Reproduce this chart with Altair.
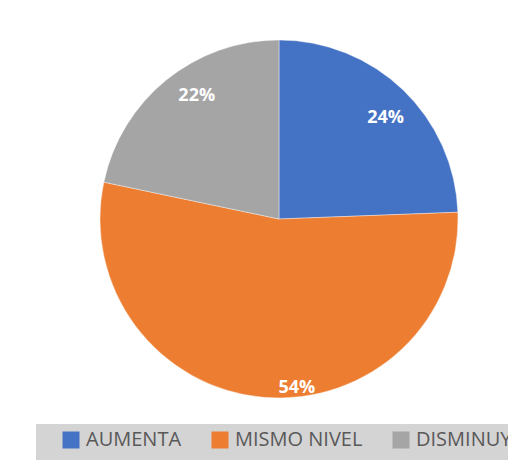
import altair as alt
import pandas as pd

categories = ["AUMENTA", "MISMO NIVEL", "DISMINUYE"]
values = [24.4, 53.9, 21.7]
labels = ["24%", "54%", "22%"]
order_idx = [0, 1, 2]
colors = ["#4472C4", "#ED7D31", "#A5A5A5"]

df = pd.DataFrame({"cat": categories, "val": values, "lab": labels, "ord": order_idx})

CX, CY, R = 271, 211, 179

color = alt.Color(
    "cat:N",
    scale=alt.Scale(domain=categories, range=colors),
    legend=alt.Legend(
        title=None,
        orient="none",
        legendX=53,
        legendY=422,
        direction="horizontal",
        symbolType="square",
        symbolSize=289,
        symbolStrokeWidth=0,
        symbolOpacity=1,
        labelFontSize=20,
        labelFont="Open Sans",
        labelColor="#595959",
        labelOffset=5,
        columnPadding=28,
        labelLimit=300,
        padding=0,
    ),
)

base = alt.Chart(df)

band = base.transform_filter("datum.ord == 0").mark_rect(color="#D4D4D4").encode(
    x=alt.value(28), x2=alt.value(520), y=alt.value(416), y2=alt.value(470)
)

arcs = base.mark_arc(radius=R, stroke="white", strokeWidth=0.4).encode(
    theta=alt.Theta("val:Q", stack=True),
    color=color,
    order=alt.Order("ord:Q"),
    x=alt.value(CX),
    y=alt.value(CY),
)

text_common = dict(font="Open Sans", fontWeight="bold", fontSize=18, color="white")


def label_layer(idx, radius, dx, dy):
    return base.mark_text(radius=radius, dx=dx, dy=dy, **text_common).encode(
        theta=alt.Theta("val:Q", stack=True),
        order=alt.Order("ord:Q"),
        text="lab:N",
        x=alt.value(CX),
        y=alt.value(CY),
        opacity=alt.condition(f"datum.ord == {idx}", alt.value(1), alt.value(0)),
    )


chart = (
    alt.layer(
        band,
        arcs,
        label_layer(0, 148, 4, 6),
        label_layer(1, 166, 32, 4),
        label_layer(2, 148, 11, -8),
    )
    .properties(width=500, height=452, padding=0, autosize=alt.AutoSizeParams(type="none"))
    .configure_view(stroke=None)
)

chart.save("out.html", embed_options={"renderer": "svg", "actions": False})
